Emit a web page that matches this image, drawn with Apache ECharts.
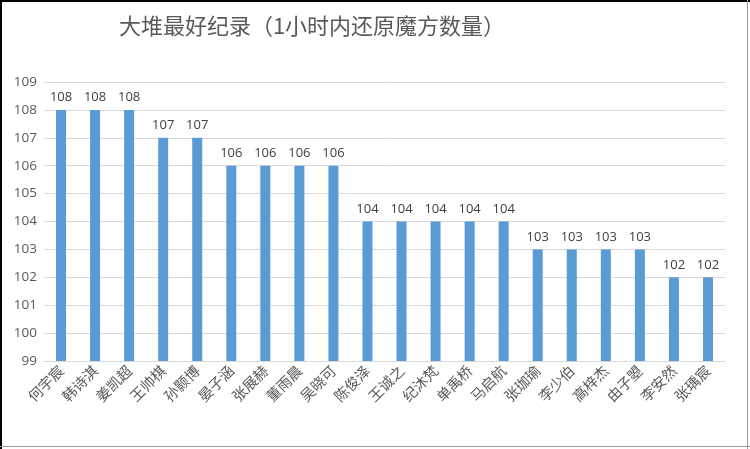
<!DOCTYPE html>
<html>
<head>
<meta charset="utf-8">
<script src="https://cdn.jsdelivr.net/npm/echarts@6/dist/echarts.min.js"></script>
<style>
html, body { margin: 0; padding: 0; background: #fff; }
#chart { width: 750px; height: 449px; }
</style>
</head>
<body>
<div id="chart"></div>
<script>
// 选手名单
const names = ['何宇宸', '韩诗淇', '姜凯超', '王帅棋', '孙颢博', '晏子涵', '张展赫', '董雨晨', '吴晓可', '陈俊泽',
    '王诚之', '纪沐梵', '单禹桥', '马启航', '张珈瑜', '李少伯', '高梓杰', '由子曌', '李安然', '张瑀宸'];
// 1小时内还原数量
const counts = [108, 108, 108, 107, 107, 106, 106, 106, 106, 104,
    104, 104, 104, 104, 103, 103, 103, 103, 102, 102];
const yMin = 99;
const yMax = 109;

const option = {
    animation: false,
    backgroundColor: '#fff',
    title: {
        text: '大堆最好纪录（1小时内还原魔方数量）',
        left: 307,
        top: 10,
        textAlign: 'center',
        textStyle: {
            fontFamily: 'Noto Sans CJK SC',
            fontSize: 22,
            fontWeight: 'normal',
            color: '#595959'
        }
    },
    graphic: [
        { type: 'line', shape: { x1: 0, y1: 1, x2: 750, y2: 1 }, style: { stroke: '#000', lineWidth: 2 } },
        { type: 'line', shape: { x1: 1, y1: 0, x2: 1, y2: 449 }, style: { stroke: '#000', lineWidth: 2 } },
        { type: 'line', shape: { x1: 747.5, y1: 0, x2: 747.5, y2: 449 }, style: { stroke: '#9a9a9a', lineWidth: 1 } },
        { type: 'line', shape: { x1: 0, y1: 446.5, x2: 750, y2: 446.5 }, style: { stroke: '#9a9a9a', lineWidth: 1 } }
    ],
    grid: {
        left: 44,
        right: 25,
        top: 82,
        bottom: 88
    },
    xAxis: {
        type: 'category',
        data: names,
        axisTick: { show: false },
        axisLine: { lineStyle: { color: '#d9d9d9', width: 1 } },
        axisLabel: {
            interval: 0,
            rotate: 45,
            margin: 7,
            fontFamily: 'Noto Sans CJK SC',
            fontSize: 14.5,
            color: '#595959'
        }
    },
    yAxis: {
        type: 'value',
        min: yMin,
        max: yMax,
        interval: 1,
        axisLine: { show: false },
        axisTick: { show: false },
        splitLine: { lineStyle: { color: '#d9d9d9' } },
        axisLabel: {
            margin: 7,
            fontFamily: 'Open Sans',
            fontSize: 13.5,
            color: '#595959'
        }
    },
    series: [
        {
            type: 'bar',
            data: counts,
            barWidth: 10,
            itemStyle: { color: '#5b9bd5' },
            label: {
                show: true,
                position: 'top',
                distance: 6,
                fontFamily: 'Open Sans',
                fontSize: 13,
                color: '#404040'
            }
        }
    ]
};

const chart = echarts.init(document.getElementById('chart'));
chart.setOption(option);
</script>
</body>
</html>
